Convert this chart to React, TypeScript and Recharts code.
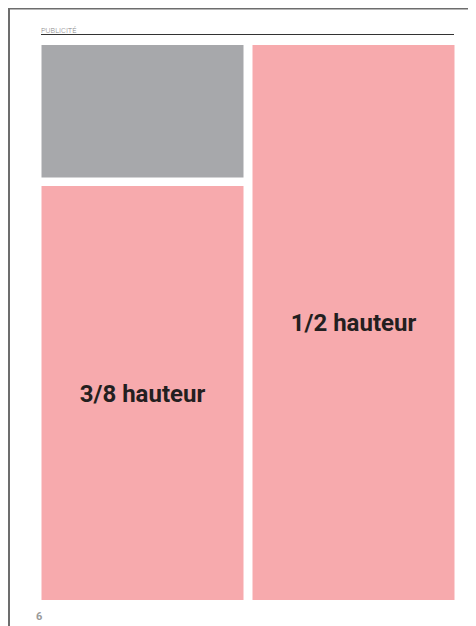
import React from "react";
import { BarChart, Bar, XAxis, YAxis, LabelList, Customized } from "recharts";

const columns = ["gauche", "droite"];
const pinkHeights = [414, 555];
const gapHeights = [8.5, 0];
const greyHeights = [132.5, 0];
const labels = ["3/8 hauteur", "1/2 hauteur"];
const headerText = "PUBLICITÉ";
const pageNumber = "6";

const data = columns.map((name, i) => ({
  name,
  pink: pinkHeights[i],
  gap: gapHeights[i],
  grey: greyHeights[i],
  label: labels[i],
}));

const W = 468;
const H = 618;

const PageDecor = () => (
  <g>
    <line x1={0} y1={0.75} x2={W} y2={0.75} stroke="#6d6d6d" strokeWidth={1.5} />
    <line x1={1} y1={0} x2={1} y2={H} stroke="#6d6d6d" strokeWidth={2} />
    <text x={33} y={24.5} fontSize={7.5} fill="#8a8a8a" fontFamily="Roboto" fontWeight={300}>
      {headerText}
    </text>
    <line x1={33} y1={26.5} x2={446} y2={26.5} stroke="#333" strokeWidth={1} />
    <text x={28} y={612} fontSize={11} fill="#9a9a9a" fontFamily="Roboto" fontWeight={700}>
      {pageNumber}
    </text>
  </g>
);

export default function App() {
  return (
    <div style={{ width: W, height: H }}>
      <BarChart
        width={W}
        height={H}
        data={data}
        margin={{ top: 37, left: 28.5, right: 17.5, bottom: 26 }}
        barSize={202}
      >
        <XAxis dataKey="name" hide />
        <YAxis hide domain={[0, 555]} />
        <Bar dataKey="pink" stackId="a" fill="#f7aaad" isAnimationActive={false}>
          <LabelList
            dataKey="label"
            position="center"
            fill="#231f20"
            fontSize={24}
            fontWeight={700}
            fontFamily="Roboto"
          />
        </Bar>
        <Bar dataKey="gap" stackId="a" fill="transparent" isAnimationActive={false} />
        <Bar dataKey="grey" stackId="a" fill="#a7a8ab" isAnimationActive={false} />
        <Customized component={PageDecor} />
      </BarChart>
    </div>
  );
}
